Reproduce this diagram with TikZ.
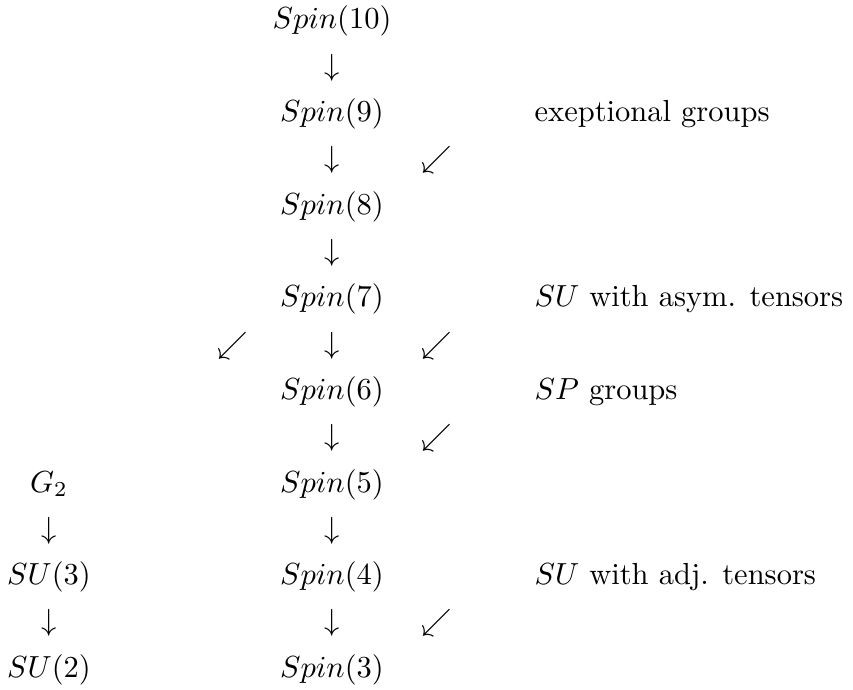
\documentclass[tikz,border=0pt]{standalone}
\usepackage{amsmath}
\usepackage{amssymb}
\usepackage{tikz}

\begin{document}
\begin{tikzpicture}[
    grp/.style={anchor=base, inner sep=0pt},
    note/.style={anchor=base west, inner sep=0pt},
    down/.style={grp},
    diag/.style={grp}
  ]
    \useasboundingbox (-3.826,0.334) rectangle (6.004,-7.616);
    % middle column: the Spin chain
    \node[grp] (spin10) at (0,0) {$Spin(10)$};
    \node[down] (d10) at (0,-0.534) {$\downarrow$};
    \node[grp] (spin9) at (0,-1.067) {$Spin(9)$};
    \node[down] (d9) at (0,-1.601) {$\downarrow$};
    \node[grp] (spin8) at (0,-2.134) {$Spin(8)$};
    \node[down] (d8) at (0,-2.668) {$\downarrow$};
    \node[grp] (spin7) at (0,-3.202) {$Spin(7)$};
    \node[down] (d7) at (0,-3.735) {$\downarrow$};
    \node[grp] (spin6) at (0,-4.269) {$Spin(6)$};
    \node[down] (d6) at (0,-4.802) {$\downarrow$};
    \node[grp] (spin5) at (0,-5.336) {$Spin(5)$};
    \node[down] (d5) at (0,-5.870) {$\downarrow$};
    \node[grp] (spin4) at (0,-6.403) {$Spin(4)$};
    \node[down] (d4) at (0,-6.937) {$\downarrow$};
    \node[grp] (spin3) at (0,-7.470) {$Spin(3)$};
    % left column
    \node[grp] (g2) at (-3.261,-5.336) {$G_2$};
    \node[down] (dg2) at (-3.261,-5.870) {$\downarrow$};
    \node[grp] (su3) at (-3.261,-6.403) {$SU(3)$};
    \node[down] (dsu3) at (-3.261,-6.937) {$\downarrow$};
    \node[grp] (su2) at (-3.261,-7.470) {$SU(2)$};
    \node[diag] (sw7l) at (-1.141,-3.735) {$\swarrow$};
    % right side
    \node[diag] (sw9) at (1.21,-1.601) {$\swarrow$};
    \node[diag] (sw7r) at (1.21,-3.735) {$\swarrow$};
    \node[diag] (sw6) at (1.21,-4.802) {$\swarrow$};
    \node[diag] (sw4) at (1.21,-6.937) {$\swarrow$};
    \node[note] (exc) at (2.328,-1.067) {exeptional groups};
    \node[note] (asym) at (2.328,-3.202) {$SU$ with asym. tensors};
    \node[note] (spg) at (2.328,-4.269) {$SP$ groups};
    \node[note] (adj) at (2.328,-6.403) {$SU$ with adj. tensors};
  \end{tikzpicture}
\end{document}
